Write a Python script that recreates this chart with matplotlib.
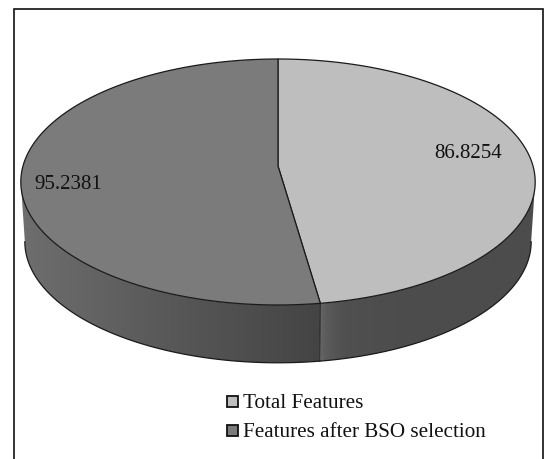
#!/usr/bin/env python3
import numpy as np
import matplotlib
matplotlib.use('Agg')
import matplotlib.pyplot as plt
from matplotlib.colors import LinearSegmentedColormap
from matplotlib.patches import Polygon, Rectangle

plt.rcParams['font.family'] = ['Liberation Serif', 'DejaVu Serif']

labels = ['Total Features', 'Features after BSO selection']
values = [86.8254, 95.2381]
top_colors = ['#bebebe', '#7b7b7b']
side_colors = [['#686868', '#505050', '#4c4c4c', '#4c4c4c'], ['#6e6e6e', '#585858', '#444444']]

# perspective disc: centre, half axes and foreshortening
CX = 278.0
TOP_Y, TOP_A, TOP_B = 167.0, 255.0, 120.9
BOT_Y, BOT_A, BOT_B = 227.0, 251.0, 119.0
K = 0.13


def rim(theta, y0, a, b):
    # theta runs clockwise from twelve o'clock
    u, v = np.sin(theta), -np.cos(theta)
    return np.column_stack([CX + a * u / (1 - K * v), y0 + b * v / (1 - K * v)])


fig = plt.figure(figsize=(5.46, 4.6), dpi=100)
ax = fig.add_axes([0, 0, 1, 1])

# outer frame, open at the bottom
ax.plot([14, 14, 543, 543], [461, 10, 10, 461], color='#111111', lw=1.2, solid_joinstyle='miter')

fracs = np.array(values) / sum(values)
bounds = np.concatenate([[0], np.cumsum(fracs)]) * 2 * np.pi
split = bounds[1]
sil = np.arccos(-K)

# rim side of each slice, shaded left to right
side_spans = [(sil, split), (split, 2 * np.pi - sil)]
for i, (t0, t1) in enumerate(side_spans):
    t = np.linspace(t0, t1, 120)
    top = rim(t, TOP_Y, TOP_A, TOP_B)
    bot = rim(t, BOT_Y, BOT_A, BOT_B)
    pts = np.vstack([top, bot[::-1]])
    x0, x1 = pts[:, 0].min(), pts[:, 0].max()
    poly = Polygon(pts, closed=True, fc='none', ec='none')
    ax.add_patch(poly)
    cmap = LinearSegmentedColormap.from_list('side%d' % i, side_colors[i])
    grad = np.linspace(0, 1, 256).reshape(1, -1)
    if i == 0:
        grad = grad ** 0.5
    im = ax.imshow(grad, cmap=cmap, extent=(x0, x1, 400, 100), aspect='auto', zorder=2)
    im.set_clip_path(poly)
    ax.plot(bot[:, 0], bot[:, 1], color='#1a1a1a', lw=0.9, zorder=3)

# edge where the two slices meet on the rim
p = np.vstack([rim(np.array([split]), TOP_Y, TOP_A, TOP_B), rim(np.array([split]), BOT_Y, BOT_A, BOT_B)])
ax.plot(p[:, 0], p[:, 1], color='#222222', lw=0.7, zorder=3)

# top face
for i in range(len(values)):
    t = np.linspace(bounds[i], bounds[i + 1], 240)
    pts = np.vstack([[[CX, TOP_Y]], rim(t, TOP_Y, TOP_A, TOP_B)])
    ax.add_patch(Polygon(pts, closed=True, fc=top_colors[i], ec='#1a1a1a', lw=0.9, zorder=4, joinstyle='round'))

# value labels on the slices
ax.text(434, 154, '%.4f' % values[0], fontsize=15, ha='left', va='center', color='#111111', zorder=5)
ax.text(34, 185, '%.4f' % values[1], fontsize=15, ha='left', va='center', color='#111111', zorder=5)

# legend entries
for name, col, y in zip(labels, top_colors, [402, 431]):
    ax.add_patch(Rectangle((226.5, y - 5.5), 11, 11, fc=col, ec='#111111', lw=1.3, zorder=5))
    ax.text(243, y + 2, name, fontsize=15.2, ha='left', va='center', color='#111111', zorder=5)

ax.set_xlim(0, 546)
ax.set_ylim(460, 0)
ax.axis('off')
fig.savefig('out.png', dpi=100)
